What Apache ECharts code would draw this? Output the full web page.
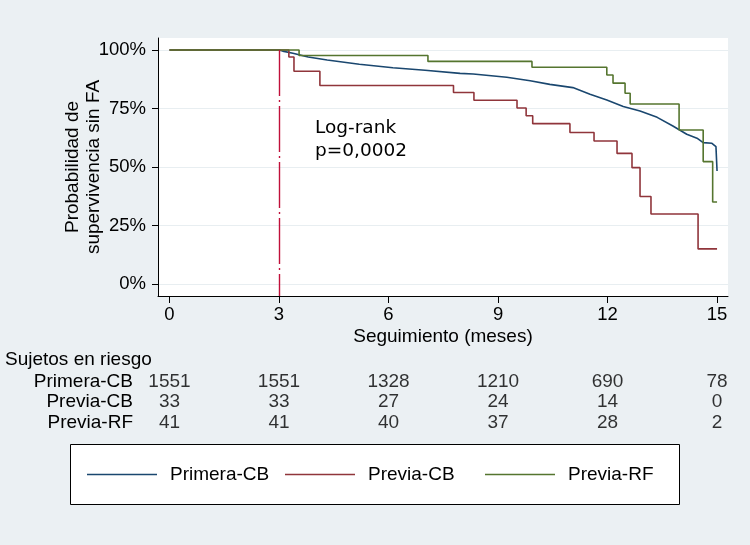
<!DOCTYPE html>
<html>
<head>
<meta charset="utf-8">
<script src="https://cdn.jsdelivr.net/npm/echarts@6/dist/echarts.min.js"></script>
<style>
html,body{margin:0;padding:0;background:#ebf0f3;}
#chart{width:750px;height:545px;}
</style>
</head>
<body>
<div id="chart"></div>
<script>
// ---- data ----
const monthTicks = [0, 3, 6, 9, 12, 15];
const yTicks = [0, 25, 50, 75, 100];
const groups = ['Primera-CB', 'Previa-CB', 'Previa-RF'];

const timePrimeraCB = [0, 3, 3.1, 3.38, 3.8, 4.32, 5.2, 6.12, 7.0, 7.96, 8.32, 9.24, 9.88, 10.42, 11.05, 11.52, 11.98, 12.43, 12.89, 13.36, 13.79, 14.17, 14.45, 14.62, 14.86, 14.97, 14.995, 15.0];
const survPrimeraCB = [100, 100, 99.5, 98.6, 97.0, 95.7, 93.9, 92.4, 91.3, 90.0, 89.7, 88.3, 86.8, 85.3, 83.9, 81.1, 78.6, 75.8, 73.9, 71.2, 67.5, 64.0, 62.3, 60.4, 60.1, 58.7, 58.5, 48.3];

const timePreviaCB = [0, 3.27, 3.41, 4.12, 7.78, 8.34, 9.52, 9.77, 9.95, 10.97, 11.63, 12.26, 12.67, 12.89, 13.19, 14.48, 15.0];
const survPreviaCB = [100, 97.0, 90.9, 84.8, 81.8, 78.5, 75.2, 71.9, 68.5, 64.7, 61.1, 55.8, 49.7, 37.4, 29.9, 15.0, 15.0];

const timePreviaRF = [0, 3.55, 7.08, 9.93, 11.98, 12.15, 12.48, 12.62, 13.96, 14.62, 14.88, 15.0];
const survPreviaRF = [100, 97.6, 95.1, 92.6, 89.3, 85.8, 81.5, 76.9, 65.8, 52.3, 35.0, 35.0];

const riskPrimeraCB = [1551, 1551, 1328, 1210, 690, 78];
const riskPreviaCB = [33, 33, 27, 24, 14, 0];
const riskPreviaRF = [41, 41, 40, 37, 28, 2];

const markerMonth = 3;
const annotation = 'Log-rank\np=0,0002';

// ---- build ----
const FONT = '"Liberation Sans", Arial, Helvetica, sans-serif';
const zip = (t, s) => t.map((v, i) => [v, s[i]]);
const riskRows = [riskPrimeraCB, riskPreviaCB, riskPreviaRF];
const riskData = [];
riskRows.forEach((row, r) => row.forEach((v, i) => riskData.push([monthTicks[i], groups[r], v])));

const X_MIN = -0.315, X_MAX = 15.30, Y_MIN = -5.13, Y_MAX = 105.1;
const colors = ['#1a476f', '#90353b', '#55752f'];

const legendBase = {
  orient: 'horizontal', top: 465, padding: 0, itemWidth: 70, itemHeight: 1.6,
  icon: 'rect', selectedMode: false,
  textStyle: { fontFamily: FONT, fontSize: 19, color: '#000', padding: [0, 0, 0, 8] }
};

const chart = echarts.init(document.getElementById('chart'), null, { renderer: 'canvas' });
chart.setOption({
  backgroundColor: '#ebf0f3',
  animation: false,
  color: colors,
  grid: [
    { left: 158, right: 22, top: 38, bottom: 249, show: true, backgroundColor: '#ffffff', borderWidth: 0 },
    { left: 158, right: 22, top: 371.5, height: 61.5, show: false }
  ],
  xAxis: [
    {
      type: 'value', gridIndex: 0, min: X_MIN, max: X_MAX,
      name: 'Seguimiento (meses)', nameLocation: 'middle', nameGap: 31, nameMoveOverlap: false,
      nameTextStyle: { fontFamily: FONT, fontSize: 19, color: '#000' },
      axisLine: { show: true, onZero: false, lineStyle: { color: '#000', width: 1 } },
      axisTick: { show: true, length: 7, customValues: monthTicks, lineStyle: { color: '#000' } },
      axisLabel: { customValues: monthTicks, margin: 9, fontFamily: FONT, fontSize: 18.5, color: '#000' },
      splitLine: { show: false }
    },
    {
      type: 'value', gridIndex: 1, min: X_MIN, max: X_MAX, show: false
    }
  ],
  yAxis: [
    {
      type: 'value', gridIndex: 0, min: Y_MIN, max: Y_MAX,
      name: 'Probabilidad de\nsupervivencia sin FA', nameLocation: 'middle', nameGap: 54, nameRotate: 90,
      nameMoveOverlap: false,
      nameTextStyle: { fontFamily: FONT, fontSize: 19, color: '#000', lineHeight: 21, align: 'center' },
      axisLine: { show: true, onZero: false, lineStyle: { color: '#000', width: 1 } },
      axisTick: { show: true, length: 6, customValues: yTicks, lineStyle: { color: '#000' } },
      axisLabel: { customValues: yTicks, margin: 12, fontFamily: FONT, fontSize: 18.5, color: '#000', formatter: v => v + '%' },
      splitLine: { show: true, lineStyle: { color: '#e8eef1', width: 1.2 } }
    },
    {
      type: 'category', gridIndex: 1, data: groups, inverse: true,
      axisLine: { show: false }, axisTick: { show: false }, splitLine: { show: false },
      axisLabel: { interval: 0, hideOverlap: false, margin: 25, fontFamily: FONT, fontSize: 19, color: '#000' }
    }
  ],
  legend: [
    Object.assign({}, legendBase, { data: [groups[0]], left: 87 }),
    Object.assign({}, legendBase, { data: [groups[1]], left: 285 }),
    Object.assign({}, legendBase, { data: [groups[2]], left: 485 })
  ],
  graphic: [
    { type: 'rect', z: -10, shape: { x: 70.5, y: 444.5, width: 609, height: 60 }, style: { fill: '#fff', stroke: '#000', lineWidth: 1 } },
    { type: 'text', left: 5, top: 350, style: { text: 'Sujetos en riesgo', font: '19px ' + FONT, fill: '#000' } },
    { type: 'text', left: 315, top: 116, style: { text: annotation, font: '18.5px "DejaVu Sans", Verdana, sans-serif', lineHeight: 23.5, fill: '#000' } }
  ],
  series: [
    {
      name: groups[0], type: 'line', xAxisIndex: 0, yAxisIndex: 0,
      data: zip(timePrimeraCB, survPrimeraCB), symbol: 'none', showSymbol: false,
      lineStyle: { width: 1.6, color: colors[0] }, itemStyle: { color: colors[0] }, z: 3,
      markLine: {
        silent: true, symbol: ['none', 'none'], label: { show: false },
        lineStyle: { color: '#c0103a', width: 1.4, type: [46, 4, 2, 4] },
        data: [[{ coord: [markerMonth, 100] }, { coord: [markerMonth, Y_MIN] }]]
      }
    },
    {
      name: groups[1], type: 'line', step: 'end', xAxisIndex: 0, yAxisIndex: 0,
      data: zip(timePreviaCB, survPreviaCB), symbol: 'none', showSymbol: false,
      lineStyle: { width: 1.6, color: colors[1] }, itemStyle: { color: colors[1] }, z: 3
    },
    {
      name: groups[2], type: 'line', step: 'end', xAxisIndex: 0, yAxisIndex: 0,
      data: zip(timePreviaRF, survPreviaRF), symbol: 'none', showSymbol: false,
      lineStyle: { width: 1.6, color: colors[2] }, itemStyle: { color: colors[2] }, z: 4
    },
    {
      name: 'risk', type: 'scatter', xAxisIndex: 1, yAxisIndex: 1,
      data: riskData, symbolSize: 1, itemStyle: { color: 'rgba(0,0,0,0)' }, silent: true,
      label: { show: true, position: 'inside', formatter: p => String(p.value[2]), fontFamily: FONT, fontSize: 19, color: '#000' }
    }
  ]
});
</script>
</body>
</html>
